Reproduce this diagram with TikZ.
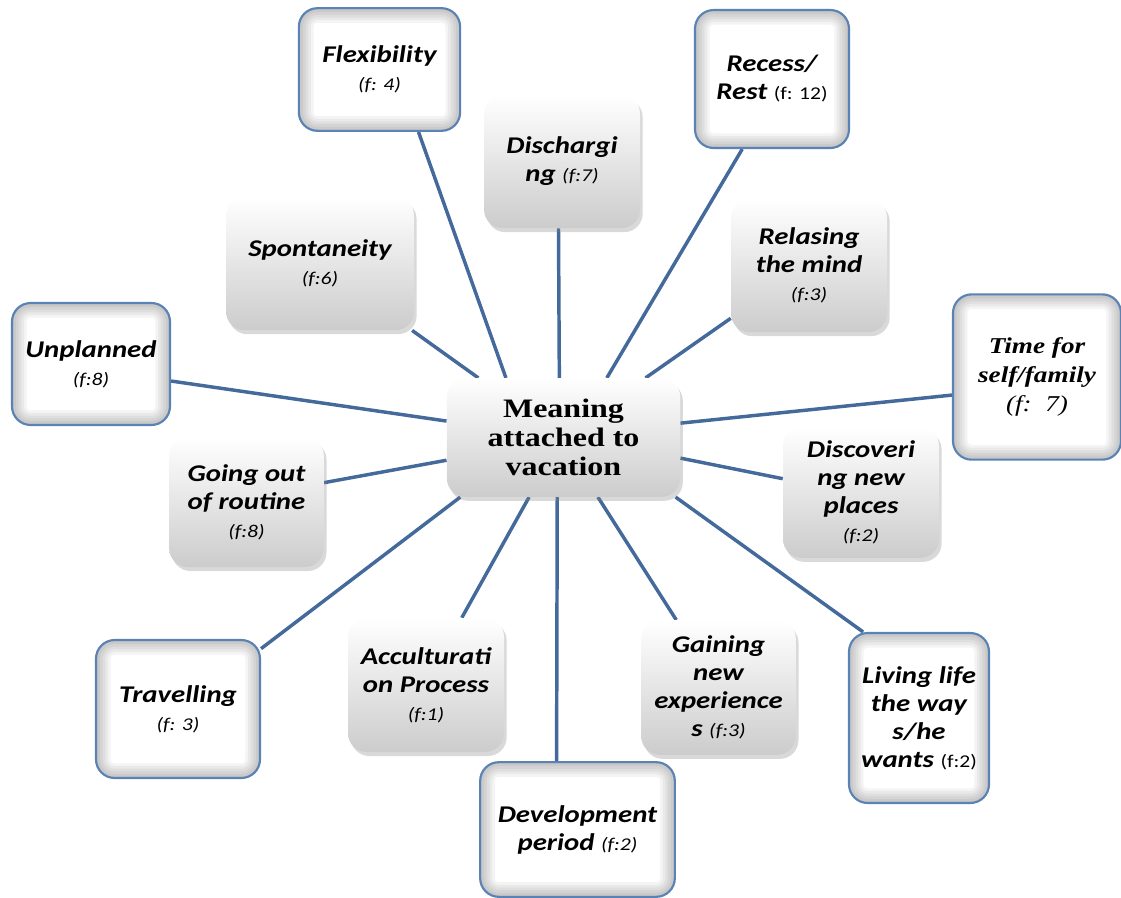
\documentclass[tikz,border=0pt]{standalone}
\usepackage{fontspec}
\setmainfont{Carlito}[FakeStretch=1.2]
\newfontfamily\romanfont{Liberation Serif}[FakeStretch=1.2]
\usetikzlibrary{backgrounds,shadows}
\definecolor{spokeblue}{HTML}{44699B}
\definecolor{rimblue}{HTML}{5A82B4}
\newcommand{\fitem}[1]{{\fontsize{13.5}{16}\selectfont\mdseries\itshape #1}}
\newcommand{\fup}[1]{{\fontsize{13.5}{16}\selectfont\mdseries\upshape #1}}
\tikzset{card/.style={rectangle,rounded corners=14pt,align=center,inner sep=2pt,font=\fontsize{18}{21}\selectfont\bfseries\itshape},rimcard/.style={card,draw=rimblue,line width=1.6pt,fill=white,path picture={\foreach \w in {22,18,...,2}{\draw[black,opacity=.045,line width=\w pt,rounded corners=14pt] (path picture bounding box.south west) rectangle (path picture bounding box.north east);}}},shadecard/.style={card,top color=white,bottom color=black!20,drop shadow={shadow xshift=2pt,shadow yshift=-3pt,opacity=.3}},spoke/.style={spokeblue,line width=2.6pt}}

\begin{document}
\begin{tikzpicture}[x=0.75pt,y=-0.75pt]
\useasboundingbox (0,0) rectangle (1121,897);
\node[shadecard,minimum width=175pt,minimum height=89pt,font=\romanfont\fontsize{20}{22}\selectfont\bfseries] (hub) at (563.5,437.5) {Meaning\\attached to\\vacation};
\node[rimcard,minimum width=121pt,minimum height=92pt] (flex) at (379.5,69.5) {Flexibility\\\fitem{(f: 4)}};
\node[shadecard,minimum width=117pt,minimum height=100pt] (disch) at (562,161.5) {Dischargi\\ng \fitem{(f:7)}};
\node[rimcard,minimum width=115.5pt,minimum height=103.5pt] (rest) at (772,79) {Recess/\\Rest \fup{(f: 12)}};
\node[shadecard,minimum width=141pt,minimum height=100pt] (spont) at (320,263.5) {Spontaneity\\\fitem{(f:6)}};
\node[shadecard,minimum width=117pt,minimum height=100pt] (relax) at (809,265.5) {Relasing\\the mind\\\fitem{(f:3)}};
\node[rimcard,minimum width=118.5pt,minimum height=91.5pt] (unpl) at (91,364) {Unplanned\\\fitem{(f:8)}};
\node[rimcard,minimum width=126pt,minimum height=124pt,font=\romanfont\fontsize{17}{22}\selectfont\bfseries\itshape] (self) at (1037,377) {Time for\\self/family\\{\mdseries (f:~~7)}};
\node[shadecard,minimum width=116pt,minimum height=97.5pt] (routine) at (246.5,502) {Going out\\of routine\\\fitem{(f:8)}};
\node[shadecard,minimum width=117pt,minimum height=98pt] (places) at (861,492.5) {Discoveri\\ng new\\places\\\fitem{(f:2)}};
\node[rimcard,minimum width=123pt,minimum height=103.5pt] (travel) at (178,709) {Travelling\\\fitem{(f: 3)}};
\node[shadecard,minimum width=117pt,minimum height=100.5pt] (accult) at (426,685) {Acculturati\\on Process\\\fitem{(f:1)}};
\node[shadecard,minimum width=116pt,minimum height=101pt] (gain) at (718.5,687.5) {Gaining\\new\\experience\\s \fitem{(f:3)}};
\node[rimcard,minimum width=105pt,minimum height=127.5pt] (living) at (919,718) {Living life\\the way\\s/he\\wants \fup{(f:2)}};
\node[rimcard,minimum width=146pt,minimum height=101pt] (devel) at (577.5,829.5) {Development\\period \fitem{(f:2)}};
\begin{scope}[on background layer]
\foreach \n/\a/\b in {flex/-58/134,disch/-93/94,rest/-113/54,spont/-36/145,relax/-146/36,unpl/-12/172,self/-168/7,routine/14/-169,places/170/-10,travel/36/-150,accult/62/-120,devel/107/-96,gain/122/-60,living/123/-28}{\draw[spoke] (\n.\a)--(hub.\b);}
\end{scope}
\end{tikzpicture}
\end{document}
